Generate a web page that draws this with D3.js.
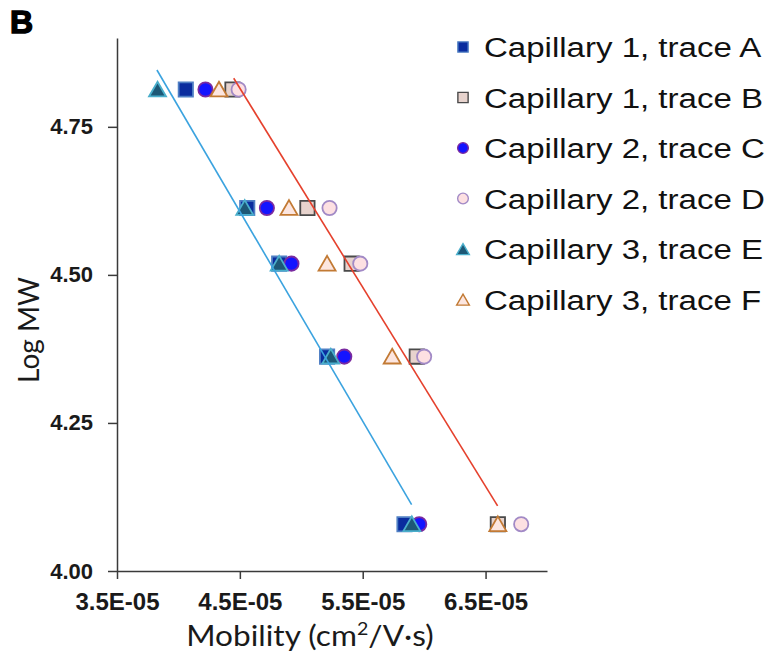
<!DOCTYPE html>
<html>
<head>
<meta charset="utf-8">
<script src="https://cdn.jsdelivr.net/npm/d3@7"></script>
<style>
  body { margin: 0; background: #fff; }
  .tick line, .domain { stroke: #3a3a3a; stroke-width: 1.5; }
</style>
</head>
<body>
<div id="chart"></div>
<script>
// log MW of each band (one row of points per band)
const logMW = [4.813, 4.613, 4.519, 4.362, 4.079];

// mobility per trace, in units of 1E-05 cm2/V.s
const traceA = [4.06, 4.56, 4.82, 5.21, 5.84];
const traceB = [4.44, 5.05, 5.41, 5.94, 6.60];
const traceC = [4.22, 4.72, 4.92, 5.35, 5.96];
const traceD = [4.49, 5.23, 5.48, 6.00, 6.79];
const traceE = [3.83, 4.54, 4.82, 5.24, 5.90];
const traceF = [4.33, 4.90, 5.21, 5.74, 6.60];

const traceNames = ['Capillary 1, trace A', 'Capillary 1, trace B', 'Capillary 2, trace C',
  'Capillary 2, trace D', 'Capillary 3, trace E', 'Capillary 3, trace F'];

// trend lines [x1, y1, x2, y2]
const blueLine = [3.825, 4.846, 5.898, 4.112];
const redLine = [4.45, 4.832, 6.598, 4.110];

const xTicks = [3.5, 4.5, 5.5, 6.5];
const yTicks = [4.00, 4.25, 4.50, 4.75];

const width = 773;
const height = 655;

const svg = d3.select('#chart')
  .append('svg')
  .attr('width', width)
  .attr('height', height);

const x = d3.scaleLinear().domain([3.5, 7.0]).range([117, 547]);
const y = d3.scaleLinear().domain([4.0, 4.9]).range([571, 38]);

// panel letter
svg.append('text')
  .attr('x', 10)
  .attr('y', 33)
  .attr('font-family', 'Liberation Sans, Arial, sans-serif')
  .attr('font-weight', 'bold')
  .attr('font-size', 32)
  .attr('stroke', '#000')
  .attr('stroke-width', 1.4)
  .text('B');

// axes
const axisX = d3.axisBottom(x).tickValues(xTicks).tickSize(8).tickSizeOuter(0).tickPadding(14)
  .tickFormat(d => d.toFixed(1) + 'E-05');
svg.append('g')
  .attr('transform', `translate(0, ${y(4.0)})`)
  .call(axisX)
  .selectAll('text')
  .attr('font-family', 'Liberation Sans, Arial, sans-serif')
  .attr('font-weight', 'bold')
  .attr('font-size', 24)
  .attr('fill', '#1a1a1a');

const axisY = d3.axisLeft(y).tickValues(yTicks).tickSize(9).tickSizeOuter(0).tickPadding(15)
  .tickFormat(d3.format('.2f'));
svg.append('g')
  .attr('transform', `translate(${x(3.5)}, 0)`)
  .call(axisY)
  .selectAll('text')
  .attr('font-family', 'Liberation Sans, Arial, sans-serif')
  .attr('font-weight', 'bold')
  .attr('font-size', 22)
  .attr('fill', '#1a1a1a');

// axis titles
const xTitle = svg.append('text')
  .attr('transform', 'translate(310, 646) scale(1.09, 1)')
  .attr('text-anchor', 'middle')
  .attr('font-family', 'Lato, sans-serif')
  .attr('font-size', 29)
  .attr('fill', '#1a1a1a');
xTitle.append('tspan').text('Mobility (cm');
xTitle.append('tspan').attr('dy', -11).attr('font-size', 18).text('2');
xTitle.append('tspan').attr('dy', 11).text('/V·s)');

svg.append('text')
  .attr('transform', 'translate(39, 330) rotate(-90)')
  .attr('text-anchor', 'middle')
  .attr('font-family', 'Lato, sans-serif')
  .attr('font-size', 28)
  .attr('fill', '#1a1a1a')
  .text('Log MW');

// marker styles
const series = [
  { name: traceNames[0], values: traceA, shape: d3.symbolSquare, fill: '#0a2c9e', stroke: '#4f7fc4' },
  { name: traceNames[1], values: traceB, shape: d3.symbolSquare, fill: '#e7d3cd', stroke: '#4a4a4a' },
  { name: traceNames[2], values: traceC, shape: d3.symbolCircle, fill: '#1414ff', stroke: '#7a2aa0' },
  { name: traceNames[3], values: traceD, shape: d3.symbolCircle, fill: '#fde0e2', stroke: '#a28ac6' },
  { name: traceNames[4], values: traceE, shape: d3.symbolTriangle, fill: '#1d5876', stroke: '#4aaecb' },
  { name: traceNames[5], values: traceF, shape: d3.symbolTriangle, fill: '#fce6e0', stroke: '#c27a34' }
];

function symbolSize(shape, big) {
  if (shape === d3.symbolSquare) return big ? 205 : 105;
  if (shape === d3.symbolCircle) return big ? 160 : 90;
  return big ? 125 : 70;
}

const points = svg.append('g').attr('class', 'points');
series.forEach(s => {
  points.selectAll(null)
    .data(s.values)
    .enter()
    .append('path')
    .attr('d', d3.symbol().type(s.shape).size(symbolSize(s.shape, true)))
    .attr('transform', (d, i) => {
      const dy = s.shape === d3.symbolTriangle ? 2 : 0;
      return `translate(${x(d)}, ${y(logMW[i]) + dy})`;
    })
    .attr('fill', s.fill)
    .attr('stroke', s.stroke)
    .attr('stroke-width', 1.8);
});

// trend lines
const trend = svg.append('g').attr('class', 'trend');
[[blueLine, '#3ba3df'], [redLine, '#e5412d']].forEach(([l, c]) => {
  trend.append('line')
    .attr('x1', x(l[0])).attr('y1', y(l[1]))
    .attr('x2', x(l[2])).attr('y2', y(l[3]))
    .attr('stroke', c)
    .attr('stroke-width', 1.6);
});

// legend
const legend = svg.append('g')
  .attr('class', 'legend')
  .attr('transform', 'translate(463, 47)');

const rows = legend.selectAll('g')
  .data(series)
  .enter()
  .append('g')
  .attr('transform', (d, i) => `translate(0, ${i * 50.5})`);

rows.append('path')
  .attr('d', d => d3.symbol().type(d.shape).size(symbolSize(d.shape, false))())
  .attr('transform', d => d.shape === d3.symbolTriangle ? 'translate(0, 2)' : null)
  .attr('fill', d => d.fill)
  .attr('stroke', d => d.stroke)
  .attr('stroke-width', 1.4);

rows.append('text')
  .attr('transform', 'translate(21, 10) scale(1.18, 1)')
  .attr('font-family', 'Liberation Sans, Arial, sans-serif')
  .attr('font-size', 28)
  .attr('fill', '#111')
  .text(d => d.name);
</script>
</body>
</html>
